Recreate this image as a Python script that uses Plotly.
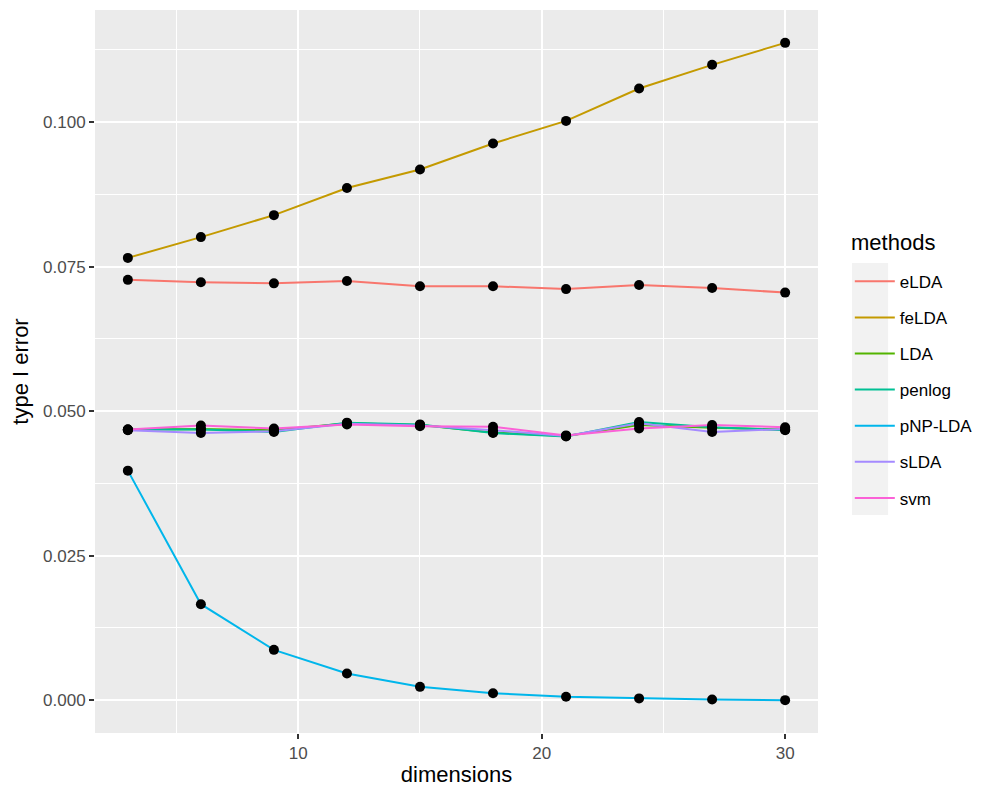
import plotly.graph_objects as go

DIMENSIONS = [3, 6, 9, 12, 15, 18, 21, 24, 27, 30]
METHODS = ["eLDA", "feLDA", "LDA", "penlog", "pNP-LDA", "sLDA", "svm"]
COLORS = ["#F8766D", "#C49A00", "#53B400", "#00C094", "#00B6EB", "#A58AFF", "#FB61D7"]

ELDA = [0.0727, 0.0723, 0.0721, 0.0725, 0.0716, 0.0716, 0.0711, 0.0718, 0.0713, 0.0705]
FELDA = [0.0765, 0.0801, 0.0839, 0.0886, 0.0918, 0.0963, 0.1002, 0.1058, 0.1099, 0.1137]
LDA = [0.0468, 0.0469, 0.0467, 0.0479, 0.0476, 0.0463, 0.0457, 0.0476, 0.0471, 0.0468]
PENLOG = [0.0468, 0.0468, 0.0464, 0.0480, 0.0477, 0.0462, 0.0456, 0.0481, 0.0472, 0.0467]
PNP_LDA = [0.0397, 0.0166, 0.0087, 0.0046, 0.0023, 0.0012, 0.0006, 0.0003, 0.0001, 0.0000]
SLDA = [0.0467, 0.0462, 0.0465, 0.0478, 0.0475, 0.0467, 0.0457, 0.0479, 0.0464, 0.0469]
SVM = [0.0468, 0.0475, 0.0470, 0.0477, 0.0474, 0.0473, 0.0458, 0.0470, 0.0476, 0.0472]

SERIES = [ELDA, FELDA, LDA, PENLOG, PNP_LDA, SLDA, SVM]

X_TICKS = [10, 20, 30]
Y_TICKS = [0.0, 0.025, 0.05, 0.075, 0.1]
Y_LABELS = ["0.000", "0.025", "0.050", "0.075", "0.100"]

FONT = "Liberation Sans, Arial, sans-serif"


def main():
    fig = go.Figure()

    # lines first, points on top (like geom_line + geom_point)
    for name, color, values in zip(METHODS, COLORS, SERIES):
        fig.add_trace(go.Scatter(
            x=DIMENSIONS, y=values, mode="lines", name=name,
            line=dict(color=color, width=2),
            legendgroup=name,
        ))
    for name, values in zip(METHODS, SERIES):
        fig.add_trace(go.Scatter(
            x=DIMENSIONS, y=values, mode="markers", showlegend=False,
            marker=dict(color="black", size=10),
            legendgroup=name,
        ))

    all_vals = [v for s in SERIES for v in s]
    lo, hi = min(all_vals), max(all_vals)
    pad = (hi - lo) * 0.05
    xpad = (max(DIMENSIONS) - min(DIMENSIONS)) * 0.05

    axis_common = dict(
        showline=False, zeroline=False,
        gridcolor="white", gridwidth=2,
        ticks="outside", ticklen=5, tickcolor="#333333", tickwidth=2,
        tickfont=dict(family=FONT, size=17, color="#4D4D4D"),
        title_font=dict(family=FONT, size=22, color="black"),
    )

    # grey key background behind the legend swatches (ggplot legend.key)
    key_bg = dict(type="rect", xref="paper", yref="paper",
                  x0=1.047, x1=1.097, y0=0.3015, y1=0.650,
                  fillcolor="#F2F2F2", line_width=0, layer="below")

    fig.update_layout(
        width=1000, height=800,
        paper_bgcolor="white", plot_bgcolor="#EBEBEB",
        margin=dict(l=87, r=190, t=2, b=75),
        font=dict(family=FONT),
        xaxis=dict(
            range=[min(DIMENSIONS) - xpad, max(DIMENSIONS) + xpad],
            tickvals=X_TICKS,
            title_text="dimensions", title_standoff=4,
            minor=dict(tickvals=[5, 15, 25], gridcolor="white", gridwidth=1, ticklen=0),
            **axis_common,
        ),
        yaxis=dict(
            range=[lo - pad, hi + pad],
            tickvals=Y_TICKS, ticktext=Y_LABELS,
            title_text="type I error", title_standoff=12,
            minor=dict(tickvals=[0.0125, 0.0375, 0.0625, 0.0875, 0.1125],
                       gridcolor="white", gridwidth=1, ticklen=0),
            **axis_common,
        ),
        legend=dict(
            font=dict(family=FONT, size=17, color="black"),
            x=1.044, xanchor="left", y=0.649, yanchor="top",
            bgcolor="rgba(0,0,0,0)",
            tracegroupgap=11,
            itemwidth=40,
        ),
        shapes=[key_bg],
        annotations=[dict(
            text="methods", xref="paper", yref="paper",
            x=1.043, y=0.679, xanchor="left", yanchor="middle",
            showarrow=False, font=dict(family=FONT, size=22, color="black"),
        )],
    )

    fig.write_html("out.html")


if __name__ == "__main__":
    main()
